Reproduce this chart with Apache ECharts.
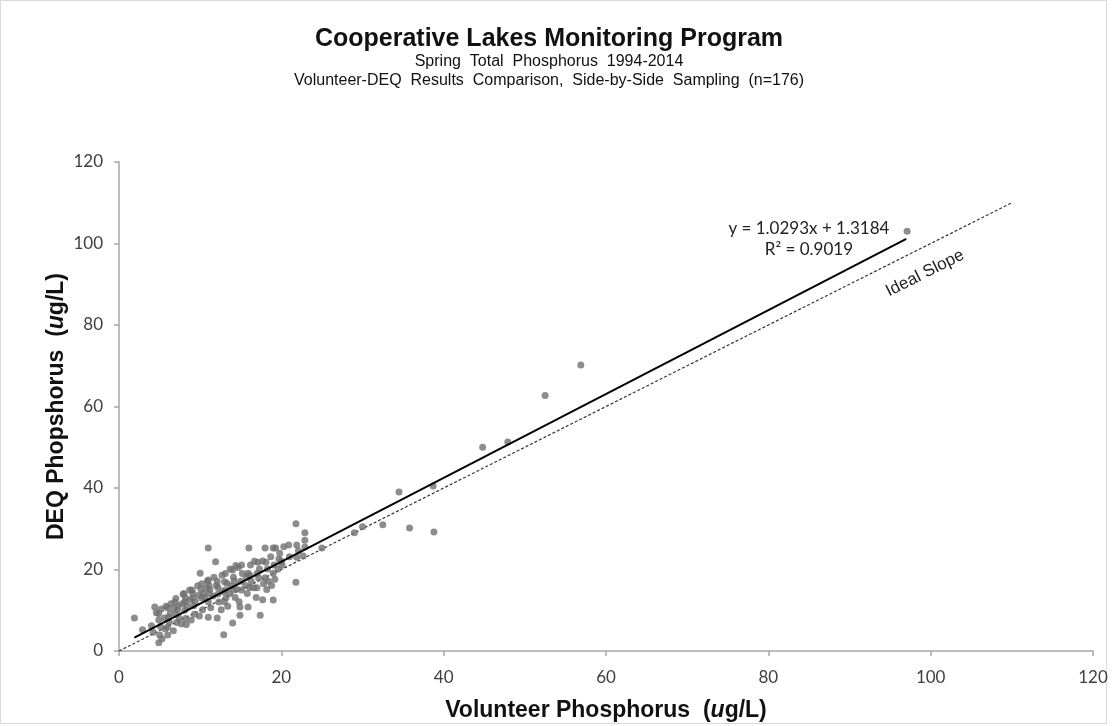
<!DOCTYPE html>
<html>
<head>
<meta charset="utf-8">
<script src="https://cdn.jsdelivr.net/npm/echarts@6/dist/echarts.min.js"></script>
<style>
  html, body { margin: 0; background: #fff; }
  #chart { width: 1112px; height: 726px; }
</style>
</head>
<body>
<div id="chart"></div>
<script>
// side-by-side samples: [volunteer ug/L, DEQ ug/L]
const samples = [
  [1.9, 8.1], [2.9, 5.2], [4.0, 6.2], [4.2, 4.6], [4.4, 10.8], [4.6, 9.4],
  [4.9, 9.2], [4.9, 7.6], [5.0, 3.9], [4.9, 2.0], [5.1, 6.0], [5.2, 10.3], [5.3, 3.0],
  [5.6, 8.1], [5.7, 5.4], [5.8, 11.0],
  [6.0, 10.6], [6.0, 3.9], [6.0, 5.9], [6.1, 8.3], [6.2, 7.1], [6.3, 9.2], [6.4, 11.6],
  [6.7, 5.0], [6.8, 10.4], [6.9, 12.0],
  [7.0, 9.0], [7.1, 7.0], [7.2, 10.1], [7.3, 11.1], [7.4, 8.1], [7.0, 12.9],
  [7.7, 6.6], [7.8, 11.6], [7.9, 13.9],
  [8.0, 14.1], [8.1, 12.1], [8.1, 10.0], [8.2, 8.0], [8.3, 6.5], [8.4, 11.0], [8.2, 13.0],
  [8.7, 15.0], [8.8, 12.5], [8.9, 7.6],
  [9.0, 15.0], [9.1, 13.0], [9.2, 11.1], [9.3, 9.0], [9.4, 12.1], [9.1, 14.1],
  [9.7, 16.0], [9.8, 13.6], [9.9, 8.6],
  [10.0, 19.1], [10.1, 15.1], [10.2, 13.0], [10.3, 10.1], [10.4, 14.2], [10.2, 16.5],
  [10.6, 13.1], [10.8, 15.5], [10.9, 17.2],
  [11.0, 25.3], [11.0, 17.4], [11.1, 14.1], [11.0, 12.1], [11.0, 8.3], [11.2, 15.1], [11.3, 10.6], [11.1, 16.1],
  [11.6, 13.5], [11.7, 18.1], [11.9, 21.9],
  [12.1, 8.1], [12.0, 16.1], [12.2, 14.0], [12.3, 12.0], [12.1, 17.1], [12.2, 15.6],
  [12.6, 10.1], [12.7, 18.6], [12.8, 14.6],
  [12.9, 4.0], [13.0, 17.0], [13.1, 15.0], [13.2, 13.1], [13.0, 12.1], [13.3, 16.6], [13.1, 19.0], [13.4, 11.0],
  [13.6, 14.1], [13.7, 20.1], [13.8, 16.0],
  [14.0, 19.9], [14.0, 6.9], [14.1, 15.1], [14.2, 17.1], [14.3, 13.1], [14.1, 18.1], [14.4, 21.0],
  [14.5, 15.2], [14.7, 20.5], [14.8, 12.1],
  [14.9, 10.8], [14.9, 8.8], [15.0, 17.1], [15.1, 15.0], [15.2, 19.0], [15.1, 21.1],
  [15.6, 16.1], [15.7, 18.1], [15.8, 14.1],
  [16.0, 25.3], [15.9, 19.1], [15.9, 10.8], [16.1, 15.6], [16.2, 21.1], [16.3, 17.1], [16.1, 18.6],
  [16.6, 15.5], [16.7, 22.0], [16.9, 13.1],
  [17.1, 21.8], [17.2, 17.9], [17.0, 15.5], [17.4, 8.8], [17.3, 20.1], [17.0, 19.0],
  [17.7, 22.1], [17.8, 16.5], [17.7, 12.6],
  [18.0, 25.3], [18.1, 21.8], [18.0, 18.0], [18.2, 15.1], [18.3, 20.1], [18.4, 17.1],
  [18.7, 23.1], [18.8, 16.1],
  [19.0, 25.3], [19.0, 19.1], [19.0, 12.5], [19.1, 21.1], [19.2, 17.6], [19.3, 25.3],
  [19.6, 20.1], [19.7, 22.6],
  [19.8, 24.0], [20.0, 22.0], [20.1, 21.1], [20.3, 25.6],
  [20.9, 26.0], [21.0, 23.1],
  [21.8, 31.2], [21.9, 26.0], [21.9, 23.0], [21.8, 16.9], [22.1, 24.6],
  [22.9, 29.0], [22.9, 27.2], [22.9, 25.5], [22.7, 23.3],
  [25.0, 25.3], [29.0, 29.0], [30.0, 30.5], [32.5, 31.0], [34.5, 39.0], [35.8, 30.2],
  [38.7, 40.5], [38.8, 29.2], [44.8, 50.0], [47.9, 51.3], [52.5, 62.7], [56.9, 70.2],
  [97.1, 103.0]
];

// linear trendline reported on the chart
const fitSlope = 1.0293;
const fitIntercept = 1.3184;
const fitR2 = 0.9019;
const fitXRange = [1.9, 97];

// 1:1 reference line
const idealLine = [[0, 0], [110, 110]];

const axisMin = 0;
const axisMax = 120;
const axisStep = 20;

const fitLine = fitXRange.map(x => [x, +(fitSlope * x + fitIntercept).toFixed(2)]);

const chart = echarts.init(document.getElementById("chart"));

const tickLabel = {
  fontFamily: "Lato",
  fontSize: 17,
  color: "#404040",
};
const axisLine = { lineStyle: { color: "#A6A6A6", width: 1.5 } };
const axisTick = { show: true, length: 5, lineStyle: { color: "#A6A6A6", width: 1.5 } };
const nameStyle = {
  fontFamily: "Liberation Sans",
  fontWeight: "bold",
  fontSize: 23,
  color: "#111",
  rich: {
    i: { fontFamily: "Liberation Sans", fontWeight: "bold", fontStyle: "italic", fontSize: 23, color: "#111" },
  },
};

chart.setOption({
  animation: false,
  backgroundColor: "#fff",
  title: {
    left: 544,
    top: 22,
    textAlign: "center",
    text: "Cooperative Lakes Monitoring Program",
    textStyle: { fontFamily: "Liberation Sans", fontWeight: "bold", fontSize: 25, color: "#111" },
    subtext: "Spring  Total  Phosphorus  1994-2014\nVolunteer-DEQ  Results  Comparison,  Side-by-Side  Sampling  (n=176)",
    subtextStyle: { fontFamily: "Liberation Sans", fontSize: 16, color: "#111", lineHeight: 19 },
    itemGap: 0,
  },
  grid: { left: 119, right: 19, top: 162, bottom: 75, outerBoundsMode: "none" },
  xAxis: {
    type: "value",
    min: axisMin,
    max: axisMax,
    interval: axisStep,
    name: "Volunteer Phosphorus  ({i|u}g/L)",
    nameLocation: "middle",
    nameGap: 48,
    nameMoveOverlap: false,
    nameTextStyle: nameStyle,
    axisLine,
    axisTick,
    axisLabel: { ...tickLabel, margin: 18 },
    splitLine: { show: false },
  },
  yAxis: {
    type: "value",
    min: axisMin,
    max: axisMax,
    interval: axisStep,
    name: "DEQ Phopshorus  ({i|u}g/L)",
    nameLocation: "middle",
    nameRotate: 90,
    nameGap: 51,
    nameMoveOverlap: false,
    nameTextStyle: nameStyle,
    axisLine: { show: true, ...axisLine },
    axisTick,
    axisLabel: { ...tickLabel, margin: 16 },
    splitLine: { show: false },
  },
  series: [
    {
      name: "Ideal Slope",
      type: "line",
      data: idealLine,
      symbol: "none",
      silent: true,
      lineStyle: { color: "#333", width: 1.2, type: [3, 2] },
      z: 1,
    },
    {
      name: "Samples",
      type: "scatter",
      data: samples,
      symbol: "circle",
      symbolSize: 7,
      itemStyle: { color: "#707070" },
      z: 2,
    },
    {
      name: "Linear fit",
      type: "line",
      data: fitLine,
      symbol: "none",
      lineStyle: { color: "#000", width: 2 },
      z: 3,
    },
  ],
});

// annotations positioned from data coordinates
const px = p => chart.convertToPixel({ gridIndex: 0 }, p);
const a = px(idealLine[0]);
const b = px(idealLine[1]);
const slopeAngle = Math.atan2(a[1] - b[1], b[0] - a[0]);
const eqPos = px([85, 103.6]);
const r2Pos = px([85, 98.6]);
const idealPos = px([99.3, 92.7]);

chart.setOption({
  graphic: [
    {
      type: "text",
      x: eqPos[0],
      y: eqPos[1],
      style: {
        text: "y = " + fitSlope + "x + " + fitIntercept,
        font: "17px Lato",
        fill: "#222",
        align: "center",
        verticalAlign: "middle",
      },
    },
    {
      type: "text",
      x: r2Pos[0],
      y: r2Pos[1],
      style: {
        text: "R² = " + fitR2,
        font: "17px Lato",
        fill: "#222",
        align: "center",
        verticalAlign: "middle",
      },
    },
    {
      type: "text",
      x: idealPos[0],
      y: idealPos[1],
      rotation: slopeAngle,
      style: {
        text: "Ideal Slope",
        font: "17px 'Liberation Sans'",
        fill: "#222",
        align: "center",
        verticalAlign: "middle",
      },
    },
    {
      type: "rect",
      shape: { x: 0.5, y: 0.5, width: 1106, height: 723 },
      style: { fill: null, stroke: "#D9D9D9", lineWidth: 1 },
      silent: true,
    },
  ],
});
</script>
</body>
</html>
